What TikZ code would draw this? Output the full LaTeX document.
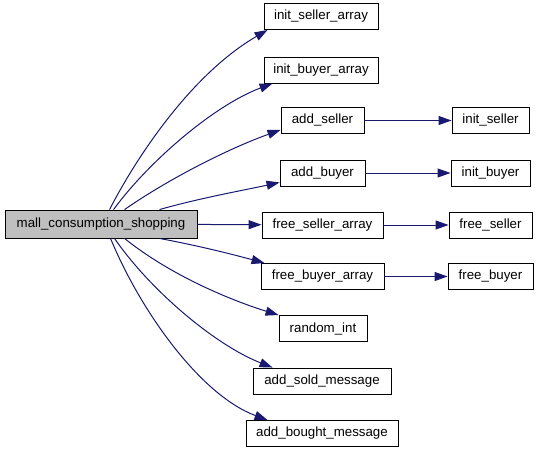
\documentclass[tikz,border=0pt]{standalone}
\usepackage{fontspec}
\setmainfont{Liberation Sans}
\usetikzlibrary{arrows.meta, positioning}
\definecolor{edgeblue}{RGB}{25, 25, 112}
\definecolor{rootgray}{RGB}{191, 191, 191}
\tikzset{
  fnbox/.style={rectangle, draw=black, line width=0.9pt, fill=white, minimum height=26pt, inner sep=0pt, font=\fontsize{13.3}{16}\selectfont},
  rootbox/.style={fnbox, fill=rootgray, minimum height=28pt},
  callarrow/.style={-{Triangle[length=13pt, width=9pt]}, edgeblue, line width=1pt}
}
\begin{document}
\begin{tikzpicture}[x=1pt, y=-1pt]
    \useasboundingbox (0, 0) rectangle (539, 453);

    % caller
    \node[rootbox, minimum width=192pt] (main) at (101, 224) {mall\_consumption\_shopping};

    % direct callees
    \node[fnbox, minimum width=114pt] (isa) at (321, 16.5) {init\_seller\_array};
    \node[fnbox, minimum width=114pt] (iba) at (321, 70) {init\_buyer\_array};
    \node[fnbox, minimum width=83pt] (as) at (322.5, 120.5) {add\_seller};
    \node[fnbox, minimum width=85pt] (ab) at (322.5, 173) {add\_buyer};
    \node[fnbox, minimum width=121pt] (fsa) at (322.5, 225) {free\_seller\_array};
    \node[fnbox, minimum width=123pt] (fba) at (322.5, 276.5) {free\_buyer\_array};
    \node[fnbox, minimum width=88pt] (ri) at (323, 328.5) {random\_int};
    \node[fnbox, minimum width=138pt] (asm) at (322, 381) {add\_sold\_message};
    \node[fnbox, minimum width=152pt] (abm) at (322, 433.5) {add\_bought\_message};

    % second level
    \node[fnbox, minimum width=77pt] (ins) at (490.5, 120.5) {init\_seller};
    \node[fnbox, minimum width=79pt] (inb) at (490.5, 173) {init\_buyer};
    \node[fnbox, minimum width=83pt] (fs) at (490.5, 225) {free\_seller};
    \node[fnbox, minimum width=85pt] (fb) at (490.5, 276.5) {free\_buyer};

    % calls from the top edge
    \draw[callarrow] ([xshift=105]main.north west) .. controls (135, 160) and (190, 75) .. ([xshift=4]isa.south west);
    \draw[callarrow] ([xshift=109]main.north west) .. controls (150, 160) and (215, 105) .. ([xshift=9]iba.south west);
    \draw[callarrow] ([xshift=120]main.north west) .. controls (170, 178) and (230, 148) .. ([yshift=4]as.south west);
    \draw[callarrow] ([xshift=155]main.north west) .. controls (200, 198) and (245, 190) .. ([yshift=4]ab.south west);

    \draw[callarrow] (main) -- (fsa);

    % calls from the bottom edge
    \draw[callarrow] ([xshift=155]main.south west) .. controls (200, 246) and (235, 255) .. ([xshift=4]fba.north west);
    \draw[callarrow] ([xshift=120]main.south west) .. controls (170, 275) and (230, 300) .. (ri.north west);
    \draw[callarrow] ([xshift=110]main.south west) .. controls (150, 290) and (215, 345) .. ([xshift=20]asm.north west);
    \draw[callarrow] ([xshift=106]main.south west) .. controls (140, 310) and (200, 395) .. ([xshift=22]abm.north west);

    % second level calls
    \draw[callarrow] (as) -- (ins);
    \draw[callarrow] (ab) -- (inb);
    \draw[callarrow] (fsa) -- (fs);
    \draw[callarrow] (fba) -- (fb);
\end{tikzpicture}
\end{document}
